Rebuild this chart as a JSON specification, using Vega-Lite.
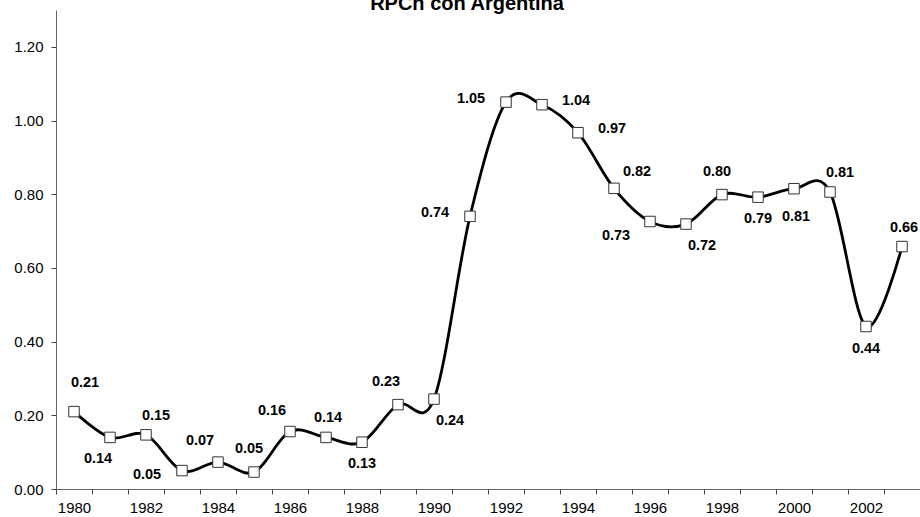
{
  "$schema": "https://vega.github.io/schema/vega-lite/v6.json",
  "width": 864,
  "height": 479,
  "autosize": {"type": "none"},
  "padding": {"left": 56, "top": 10, "right": 0, "bottom": 28},
  "background": "white",
  "config": {
    "view": {"stroke": null},
    "font": "Liberation Sans",
    "axis": {"labelFont": "Liberation Sans", "labelFontSize": 15, "labelColor": "#000", "domainColor": "#666", "tickColor": "#444", "tickSize": 5, "grid": false, "title": null}
  },
  "title": {"text": "RPCh con Argentina", "font": "Liberation Sans", "fontSize": 20, "fontWeight": "bold", "color": "#000", "anchor": "middle", "frame": "group", "dx": -21, "dy": 20, "baseline": "alphabetic", "offset": 0},
  "data": {"values": [
    {"year": 1980, "v": 0.21}, {"year": 1981, "v": 0.14}, {"year": 1982, "v": 0.147}, {"year": 1983, "v": 0.05},
    {"year": 1984, "v": 0.073}, {"year": 1985, "v": 0.046}, {"year": 1986, "v": 0.156}, {"year": 1987, "v": 0.14},
    {"year": 1988, "v": 0.127}, {"year": 1989, "v": 0.229}, {"year": 1990, "v": 0.244}, {"year": 1991, "v": 0.74},
    {"year": 1992, "v": 1.05}, {"year": 1993, "v": 1.043}, {"year": 1994, "v": 0.967}, {"year": 1995, "v": 0.816},
    {"year": 1996, "v": 0.726}, {"year": 1997, "v": 0.719}, {"year": 1998, "v": 0.799}, {"year": 1999, "v": 0.792},
    {"year": 2000, "v": 0.815}, {"year": 2001, "v": 0.806}, {"year": 2002, "v": 0.441}, {"year": 2003, "v": 0.658}
  ]},
  "encoding": {
    "x": {"field": "year", "type": "ordinal", "scale": {"type": "band", "paddingInner": 0, "paddingOuter": 0},
      "axis": {"labelAngle": 0, "tickBand": "extent", "labelPadding": 6, "labelExpr": "datum.value % 2 == 0 ? datum.label : ''"}},
    "y": {"field": "v", "type": "quantitative", "scale": {"domain": [0, 1.3], "nice": false, "zero": true},
      "axis": {"values": [0, 0.2, 0.4, 0.6, 0.8, 1.0, 1.2], "format": ".2f", "labelPadding": 8}}
  },
  "layer": [
    {"mark": {"type": "line", "interpolate": "cardinal", "tension": 0, "color": "#000", "strokeWidth": 2.8}},
    {"mark": {"type": "point", "shape": "square", "size": 110, "filled": true, "fill": "#fff", "stroke": "#333", "strokeWidth": 1, "opacity": 1}},
    {"transform": [{"filter": {"field": "year", "oneOf": [1982, 2001]}}], "mark": {"type": "text", "fontWeight": "bold", "fontSize": 14.5, "dx": 10, "dy": -19, "color": "#000"}, "encoding": {"text": {"field": "v", "format": ".2f"}}},
    {"transform": [{"filter": {"field": "year", "oneOf": [1980]}}], "mark": {"type": "text", "fontWeight": "bold", "fontSize": 14.5, "dx": 11, "dy": -29, "color": "#000"}, "encoding": {"text": {"field": "v", "format": ".2f"}}},
    {"transform": [{"filter": {"field": "year", "oneOf": [1995]}}], "mark": {"type": "text", "fontWeight": "bold", "fontSize": 14.5, "dx": 23, "dy": -16, "color": "#000"}, "encoding": {"text": {"field": "v", "format": ".2f"}}},
    {"transform": [{"filter": {"field": "year", "oneOf": [1981]}}], "mark": {"type": "text", "fontWeight": "bold", "fontSize": 14.5, "dx": -12, "dy": 22, "color": "#000"}, "encoding": {"text": {"field": "v", "format": ".2f"}}},
    {"transform": [{"filter": {"field": "year", "oneOf": [1983]}}], "mark": {"type": "text", "fontWeight": "bold", "fontSize": 14.5, "dx": -35, "dy": 4, "color": "#000"}, "encoding": {"text": {"field": "v", "format": ".2f"}}},
    {"transform": [{"filter": {"field": "year", "oneOf": [1991, 1992]}}], "mark": {"type": "text", "fontWeight": "bold", "fontSize": 14.5, "dx": -35, "dy": -3, "color": "#000"}, "encoding": {"text": {"field": "v", "format": ".2f"}}},
    {"transform": [{"filter": {"field": "year", "oneOf": [1984, 1986]}}], "mark": {"type": "text", "fontWeight": "bold", "fontSize": 14.5, "dx": -18, "dy": -21, "color": "#000"}, "encoding": {"text": {"field": "v", "format": ".2f"}}},
    {"transform": [{"filter": {"field": "year", "oneOf": [1989]}}], "mark": {"type": "text", "fontWeight": "bold", "fontSize": 14.5, "dx": -12, "dy": -23, "color": "#000"}, "encoding": {"text": {"field": "v", "format": ".2f"}}},
    {"transform": [{"filter": {"field": "year", "oneOf": [1985, 1998]}}], "mark": {"type": "text", "fontWeight": "bold", "fontSize": 14.5, "dx": -5, "dy": -23, "color": "#000"}, "encoding": {"text": {"field": "v", "format": ".2f"}}},
    {"transform": [{"filter": {"field": "year", "oneOf": [1987, 2003]}}], "mark": {"type": "text", "fontWeight": "bold", "fontSize": 14.5, "dx": 2, "dy": -19, "color": "#000"}, "encoding": {"text": {"field": "v", "format": ".2f"}}},
    {"transform": [{"filter": {"field": "year", "oneOf": [1988, 1999, 2002]}}], "mark": {"type": "text", "fontWeight": "bold", "fontSize": 14.5, "dx": 0, "dy": 22, "color": "#000"}, "encoding": {"text": {"field": "v", "format": ".2f"}}},
    {"transform": [{"filter": {"field": "year", "oneOf": [2000]}}], "mark": {"type": "text", "fontWeight": "bold", "fontSize": 14.5, "dx": 2, "dy": 28, "color": "#000"}, "encoding": {"text": {"field": "v", "format": ".2f"}}},
    {"transform": [{"filter": {"field": "year", "oneOf": [1990, 1997]}}], "mark": {"type": "text", "fontWeight": "bold", "fontSize": 14.5, "dx": 16, "dy": 22, "color": "#000"}, "encoding": {"text": {"field": "v", "format": ".2f"}}},
    {"transform": [{"filter": {"field": "year", "oneOf": [1993, 1994]}}], "mark": {"type": "text", "fontWeight": "bold", "fontSize": 14.5, "dx": 34, "dy": -4, "color": "#000"}, "encoding": {"text": {"field": "v", "format": ".2f"}}},
    {"transform": [{"filter": {"field": "year", "oneOf": [1996]}}], "mark": {"type": "text", "fontWeight": "bold", "fontSize": 14.5, "dx": -34, "dy": 15, "color": "#000"}, "encoding": {"text": {"field": "v", "format": ".2f"}}}
  ]
}
